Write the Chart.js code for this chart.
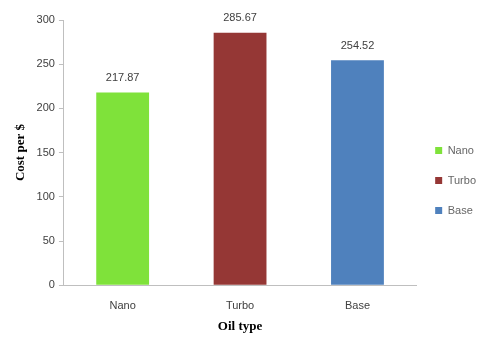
<!DOCTYPE html>
<html>
<head>
<meta charset="utf-8">
<script src="https://cdn.jsdelivr.net/npm/chart.js@4"></script>
<style>
  html, body { margin: 0; padding: 0; background: #fff; }
  #wrap { width: 486px; height: 337px; }
</style>
</head>
<body>
<div id="wrap"><canvas id="costChart"></canvas></div>
<script>
// Data
const oilTypes = ['Nano', 'Turbo', 'Base'];
const costs = [217.87, 285.67, 254.52];
const barColors = ['#7fe23a', '#953735', '#4f81bd'];

const tickFont = { family: 'Liberation Sans', size: 11 };
const titleFont = { family: 'Liberation Serif', size: 13, weight: 'bold' };

// draws the value above each bar
const valueLabels = {
  id: 'valueLabels',
  afterDatasetsDraw(chart) {
    const ctx = chart.ctx;
    const meta = chart.getDatasetMeta(0);
    ctx.save();
    ctx.font = '11px "Liberation Sans"';
    ctx.fillStyle = '#404040';
    ctx.textAlign = 'center';
    ctx.textBaseline = 'bottom';
    meta.data.forEach((bar, i) => {
      ctx.fillText(costs[i].toFixed(2), bar.x, bar.y - 9);
    });
    ctx.restore();
  }
};

const ctx = document.getElementById('costChart').getContext('2d');

const costChart = new Chart(ctx, {
  type: 'bar',
  data: {
    labels: oilTypes,
    datasets: [{
      label: 'Cost',
      data: costs,
      backgroundColor: barColors,
      borderWidth: 0,
      categoryPercentage: 1,
      barPercentage: 0.45
    }]
  },
  options: {
    responsive: true,
    maintainAspectRatio: false,
    animation: false,
    layout: { padding: { top: 20, left: 9, right: 0, bottom: 3 } },
    plugins: {
      tooltip: { enabled: false },
      legend: {
        position: 'right',
        // empty title just nudges the items down a little
        title: { display: true, text: '', font: { size: 1 }, padding: { top: 6, bottom: 0 } },
        labels: {
          boxWidth: 7,
          boxHeight: 7,
          padding: 19,
          color: '#404040',
          font: tickFont,
          generateLabels: () => oilTypes.map((name, i) => ({
            text: name,
            fillStyle: barColors[i],
            strokeStyle: barColors[i],
            lineWidth: 0,
            index: i
          }))
        }
      }
    },
    scales: {
      x: {
        grid: { display: false },
        border: { display: true, color: '#bfbfbf' },
        ticks: { color: '#404040', font: tickFont, padding: 6 },
        title: { display: true, text: 'Oil type', color: '#000', font: titleFont, padding: { top: 0, bottom: 0 } }
      },
      y: {
        min: 0,
        max: 300,
        ticks: { stepSize: 50, color: '#404040', font: tickFont, padding: 4 },
        grid: { drawOnChartArea: false, drawTicks: true, tickLength: 5, color: '#bfbfbf' },
        border: { display: true, color: '#bfbfbf' },
        title: { display: true, text: 'Cost per $', color: '#000', font: titleFont }
      }
    }
  },
  plugins: [valueLabels]
});
</script>
</body>
</html>
